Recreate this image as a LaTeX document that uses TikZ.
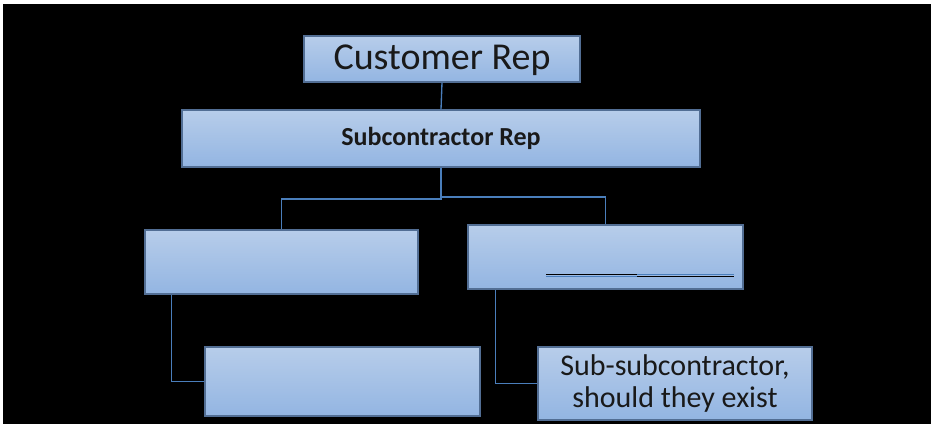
\documentclass[tikz,border=0pt]{standalone}
\usepackage{fontspec}
\setmainfont{Carlito}
\definecolor{boxtop}{RGB}{183,205,234}
\definecolor{boxbot}{RGB}{147,181,226}
\definecolor{boxline}{RGB}{82,110,148}
\definecolor{linkblue}{RGB}{74,126,187}
\tikzset{
  orgbox/.style={draw=boxline, line width=0.8pt, top color=boxtop, bottom color=boxbot,
    inner sep=0pt, align=center, text=black!90},
  link/.style={draw=linkblue, line width=1pt}
}
\begin{document}
\begin{tikzpicture}[x=0.75pt, y=-0.75pt]
    \fill[white] (0,0) rectangle (933,424);
    \fill[black] (3,4) rectangle (931,424);
    \node[orgbox, minimum width=207pt, minimum height=34.5pt, font=\fontsize{28.5}{30}\selectfont, text depth=2pt] (cust) at (442,59) {Customer Rep};
    \node[orgbox, minimum width=388.5pt, minimum height=42.75pt, font=\fontsize{19.5}{22}\selectfont\bfseries] (sub) at (441,138.5) {Subcontractor Rep};
    \node[orgbox, minimum width=204.75pt, minimum height=48pt] (ml) at (281.5,262) {};
    \node[orgbox, minimum width=206.25pt, minimum height=48pt] (mr) at (605.5,257) {};
    \node[orgbox, minimum width=206.25pt, minimum height=51.75pt] (bl) at (342.5,381.5) {};
    \node[orgbox, minimum width=205.5pt, minimum height=54.75pt, font=\fontsize{22.5}{24}\selectfont] (br) at (675,383.5) {Sub-subcontractor,\\should they exist};
    \coordinate (jl) at (441,199);
    \coordinate (jr) at (441,197);
    \draw[link] (cust.south) -- (sub.north);
    \draw[link] (sub.south) -- (jl) -| (ml.north);
    \draw[link] (jr) -| (mr.north);
    \draw[link] ([xshift=20.25pt]ml.south west) |- (bl.west);
    \draw[link] ([xshift=21pt]mr.south west) |- (br.west);
    % underline in the right box
    \draw[black, line width=1.2pt] (546,274.5) -- (637,274.5);
    \draw[linkblue, line width=1.2pt] (546,276.5) -- (637,276.5);
    \draw[linkblue, line width=1.2pt] (637,274.5) -- (734,274.5);
    \draw[black, line width=1.2pt] (637,276.5) -- (734,276.5);
\end{tikzpicture}
\end{document}
